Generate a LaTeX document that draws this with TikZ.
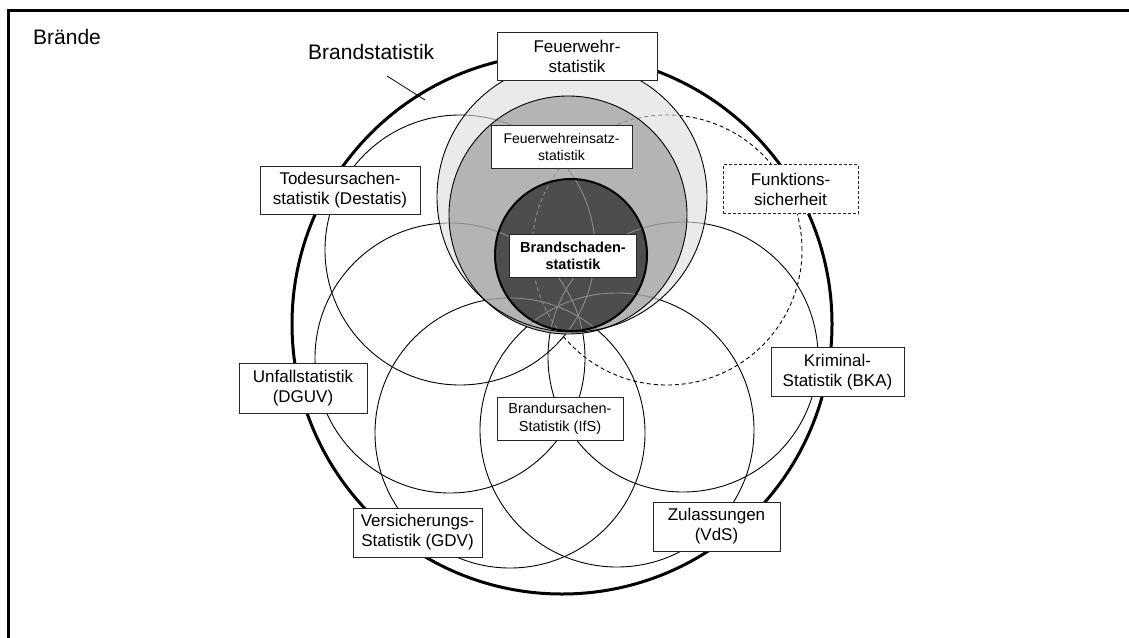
\documentclass[tikz,border=0pt]{standalone}
\usepackage{fontspec}
\setmainfont{Liberation Sans}
\definecolor{lightg}{HTML}{EAEAEA}
\definecolor{midg}{HTML}{B4B4B4}
\definecolor{darkg}{HTML}{4D4D4D}
\begin{document}
\begin{tikzpicture}[x=1pt,y=-1pt,
  box/.style={draw=black!85, line width=0.8pt, fill=white, align=center, inner sep=0pt,
    font=\fontsize{17}{20}\selectfont},
  smallbox/.style={box, font=\fontsize{14.5}{17.5}\selectfont},
  thincirc/.style={line width=0.9pt},
  ghost/.style={line width=0.9pt, draw=black!45},
  title/.style={inner sep=0pt, anchor=base west, font=\fontsize{21}{24}\selectfont}
]
\useasboundingbox (0,0) rectangle (1129,637);
\clip (0,0) rectangle (1129,637);
% frame
\draw[line width=2.6pt] (8.7,10.5) rectangle (1200,1000);
% centres
\coordinate (cB) at (562,324);
\coordinate (cT) at (460,250);
\coordinate (cF) at (667,250);
\coordinate (cU) at (450,358);
\coordinate (cK) at (683,357);
\coordinate (cV) at (510,433);
\coordinate (cZ) at (617,430);
\coordinate (cL) at (572,197);
\coordinate (cM) at (568,215);
\coordinate (cD) at (571,255);
% big circle
\draw[line width=3pt] (cB) circle[radius=270pt];
% thin circles
\draw[thincirc] (cT) circle[radius=135pt];
\draw[thincirc,dashed,dash pattern=on 4pt off 3pt] (cF) circle[radius=135pt];
\draw[thincirc] (cU) circle[radius=135pt];
\draw[thincirc] (cK) circle[radius=135pt];
\draw[thincirc] (cV) circle[radius=135pt];
\draw[thincirc] (cZ) circle[radius=137pt];
% gray circles
\fill[lightg] (cL) circle[radius=135pt];
\fill[midg] (cM) circle[radius=119pt];
\fill[darkg] (cD) circle[radius=76pt];
\begin{scope}
\clip (cL) circle[radius=135pt];
\draw[ghost] (cT) circle[radius=135pt];
\draw[ghost,dashed,dash pattern=on 4pt off 3pt] (cF) circle[radius=135pt];
\draw[ghost] (cU) circle[radius=135pt];
\draw[ghost] (cK) circle[radius=135pt];
\draw[ghost] (cV) circle[radius=135pt];
\draw[ghost] (cZ) circle[radius=137pt];
\end{scope}
\draw[line width=0.9pt] (cL) circle[radius=135pt];
\draw[line width=0.9pt] (cM) circle[radius=119pt];
\draw[line width=2pt] (cD) circle[radius=76pt];
% titles
\node[title] (braende) at (33,44) {Brände};
\node[title] (bstat) at (308,59) {Brandstatistik};
\coordinate (leadA) at (387,76);
\coordinate (leadB) at (425,100);
\draw[line width=0.8pt] (leadA) -- (leadB);
% boxes
\node[box, minimum width=160pt, minimum height=48pt] (fw) at (577,56) {Feuerwehr-\\statistik};
\node[smallbox, minimum width=141pt, minimum height=43pt, font=\fontsize{14}{17}\selectfont] (fwe) at (561.5,146.5) {Feuerwehreinsatz-\\statistik};
\node[box, minimum width=160pt, minimum height=48pt] (tod) at (340,190) {Todesursachen-\\statistik (Destatis)};
\node[box, dashed, dash pattern=on 3pt off 2pt, minimum width=135pt, minimum height=49pt] (fun) at (790.5,189) {Funktions-\\sicherheit};
\node[smallbox, minimum width=127pt, minimum height=43pt, font=\bfseries\fontsize{14.5}{17}\selectfont] (bs) at (573,255.5) {Brandschaden-\\statistik};
\node[box, minimum width=128pt, minimum height=50pt] (unf) at (303,388) {Unfallstatistik\\(DGUV)};
\node[box, minimum width=133pt, minimum height=49pt] (krim) at (837.5,372) {Kriminal-\\Statistik (BKA)};
\node[smallbox, minimum width=126pt, minimum height=43pt] (ifs) at (560,418.5) {Brandursachen-\\Statistik (IfS)};
\node[box, minimum width=129pt, minimum height=49pt] (vers) at (417.5,532.5) {Versicherungs-\\Statistik (GDV)};
\node[box, minimum width=127pt, minimum height=49pt] (zul) at (716.5,526.5) {Zulassungen\\(VdS)};
\end{tikzpicture}
\end{document}
